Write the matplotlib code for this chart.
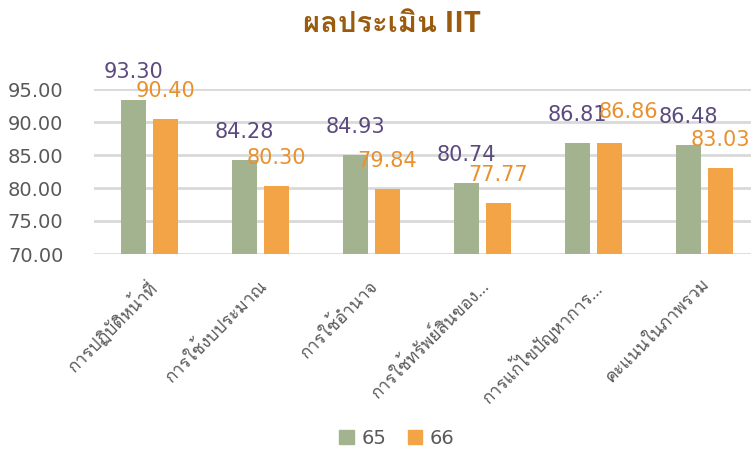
import matplotlib
matplotlib.use("Agg")
import matplotlib.pyplot as plt
from matplotlib import font_manager
from matplotlib.ft2font import FT2Font
from matplotlib.patches import Patch
import numpy as np

# ---- data ----
title = "ผลประเมิน IIT"
categories = ["การปฏิบัติหน้าที่", "การใช้งบประมาณ", "การใช้อำนาจ",
              "การใช้ทรัพย์สินของ…", "การแก้ไขปัญหาการ…", "คะแนนในภาพรวม"]
series_names = ["65", "66"]
values_65 = [93.30, 84.28, 84.93, 80.74, 86.81, 86.48]
values_66 = [90.40, 80.30, 79.84, 77.77, 86.86, 83.03]
yticks = [70, 75, 80, 85, 90, 95]

# ---- find a font with Thai glyphs ----
preferred = []
for fe in font_manager.fontManager.ttflist:
    try:
        cm = FT2Font(fe.fname).get_charmap()
    except Exception:
        continue
    if ord("ก") in cm and ord("ำ") in cm:
        preferred.append(fe.name)
thai_font = preferred[0] if preferred else "DejaVu Sans"
fam_thai = ["Open Sans", thai_font, "DejaVu Sans"]
fam_num = ["DejaVu Sans"]
plt.rcParams["font.family"] = fam_thai

green = "#A3B38F"
orange = "#F3A447"
purple_lbl = "#5B4A7E"
orange_lbl = "#E8912E"
gray_txt = "#595959"
grid_c = "#D9D9D9"

fig = plt.figure(figsize=(7.51, 4.5), dpi=100)
W, H = 751, 450
left, right = 94 / W, 760 / W
bottom, top = 1 - 254 / H, 1 - 89 / H
ax = fig.add_axes([left, bottom, right - left, top - bottom])

x = np.arange(len(categories))
bw = 0.225
off = 0.144
ax.bar(x - off, values_65, bw, color=green, zorder=3)
ax.bar(x + off, values_66, bw, color=orange, zorder=3)

ax.set_xlim(-0.5, len(categories) - 0.5)
ax.set_ylim(70, 95)
ax.set_yticks(yticks)
ax.set_yticklabels([f"{v:.2f}" for v in yticks], fontsize=14, color=gray_txt,
                   family=fam_num)
ax.yaxis.grid(True, color=grid_c, linewidth=2, zorder=0)
ax.set_axisbelow(True)
for s in ax.spines.values():
    s.set_visible(False)
ax.tick_params(axis="y", length=0, pad=22)
ax.tick_params(axis="x", length=0, pad=16)
ax.set_xticks(x - 0.025)
ax.set_xticklabels(categories, rotation=45, ha="right", va="top",
                   rotation_mode="anchor", fontsize=12.5, color=gray_txt)

for i, v in enumerate(values_65):
    ax.annotate(f"{v:.2f}", (x[i] - off, v), xytext=(0, 28),
                textcoords="offset pixels", ha="center", va="center",
                fontsize=15, color=purple_lbl, annotation_clip=False,
                family=fam_num)
for i, v in enumerate(values_66):
    dx, dy = (19, 31) if i == 4 else (0, 28)
    ax.annotate(f"{v:.2f}", (x[i] + off, v), xytext=(dx, dy),
                textcoords="offset pixels", ha="center", va="center",
                fontsize=15, color=orange_lbl, annotation_clip=False,
                family=fam_num)

fig.text(392 / W, 1 - 25 / H, title, ha="center", va="center",
         fontsize=21, fontweight="bold", color="#9A5B0E")

handles = [Patch(color=green), Patch(color=orange)]
fig.legend(handles, series_names, loc="center", bbox_to_anchor=(397 / W, 1 - 438 / H),
           ncol=2, frameon=False, labelcolor=gray_txt,
           prop={"family": fam_num, "size": 14},
           handlelength=0.75, handleheight=0.75, handletextpad=0.4, columnspacing=1.1)

fig.savefig("out.png", dpi=100)
